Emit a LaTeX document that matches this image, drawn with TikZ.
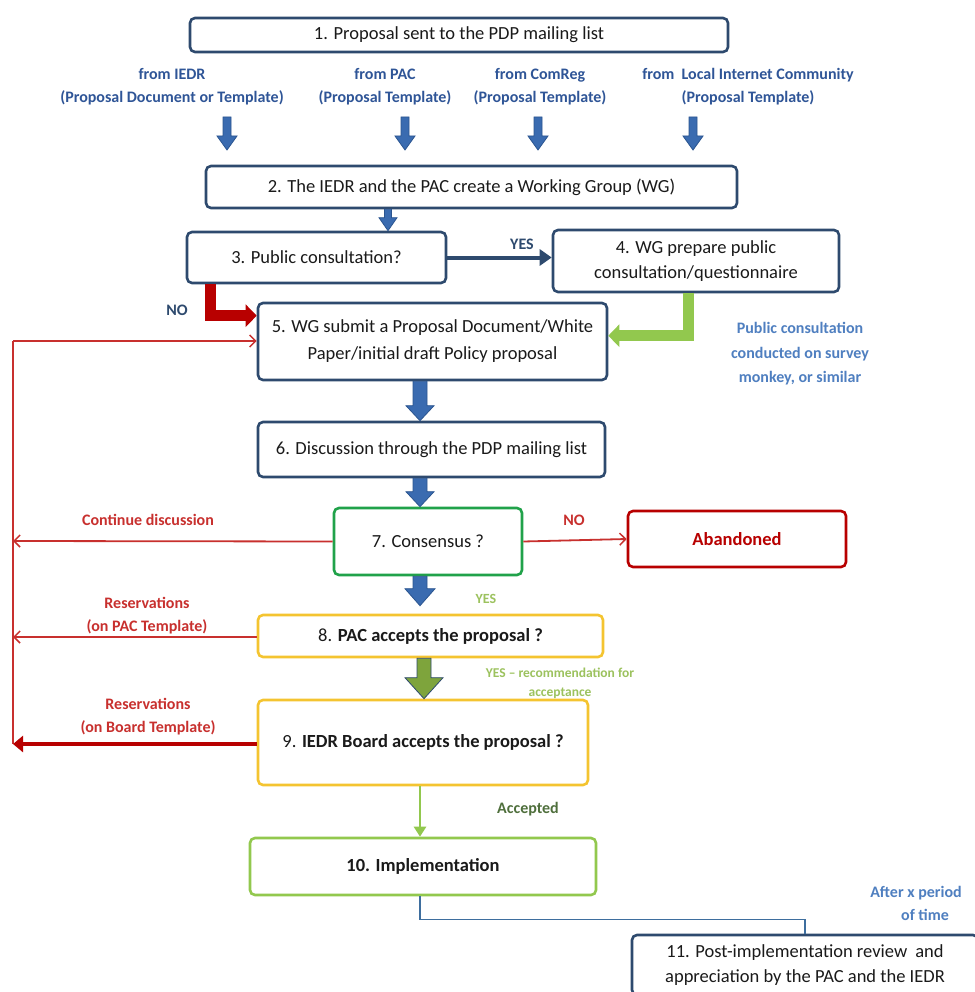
\documentclass[tikz,border=0pt]{standalone}
\usepackage{fontspec}
\setmainfont{Carlito}
\usetikzlibrary{arrows.meta,calc}
\definecolor{navy}{HTML}{2E4A6E}
\definecolor{barrow}{HTML}{3A6BB0}
\definecolor{barrowd}{HTML}{2B5590}
\definecolor{btext}{HTML}{2F5597}
\definecolor{ltblue}{HTML}{4F7FC0}
\definecolor{dred}{HTML}{B80000}
\definecolor{lred}{HTML}{C8302E}
\definecolor{cgreen}{HTML}{21A24A}
\definecolor{yel}{HTML}{F4C430}
\definecolor{lgreen}{HTML}{92C84E}
\definecolor{ygtext}{HTML}{9CC25E}
\definecolor{agreen}{HTML}{4F6F3C}
\definecolor{bfill}{HTML}{7EA43C}
\definecolor{conn}{HTML}{3E6E9E}
\definecolor{btxt}{HTML}{1A1A1A}
\newcommand\dnarrow[7]{%
  \draw[fill=#6,draw=#7,line width=0.8pt] let \p1=(#1), \p2=(#2) in
    (\x1-#3,\y1) -- (\x1-#3,\y2+#5) -- (\x1-#4,\y2+#5) -- (\x1,\y2)
    -- (\x1+#4,\y2+#5) -- (\x1+#3,\y2+#5) -- (\x1+#3,\y1) -- cycle;}
\begin{document}
\begin{tikzpicture}[x=1pt,y=-1pt,
  font=\fontsize{18.5}{22}\selectfont,
  box/.style={draw=navy, line width=2.6pt, rounded corners=5pt, fill=white,
    inner sep=0pt, align=center, text=btxt},
  lab/.style={font=\fontsize{16}{23}\selectfont\bfseries, text=btext, align=center, inner sep=0pt},
  rlab/.style={font=\fontsize{16}{23}\selectfont\bfseries, text=lred, align=center, inner sep=0pt},
  fb/.style={lred, line width=1.8pt},
  barb/.style={-{Straight Barb[length=6pt,width=12pt,line width=1.5pt]}}
]
\useasboundingbox (0,0) rectangle (974,992);
\fill[white] (0,0) rectangle (974,992);

% boxes
\node[box, minimum width=538, minimum height=34] (b1) at (459,35) {1. Proposal sent to the PDP mailing list};
\node[box, minimum width=531, minimum height=42] (b2) at (471.5,187) {2. The IEDR and the PAC create a Working Group (WG)};
\node[box, minimum width=259, minimum height=51] (b3) at (316.5,257.5) {3. Public consultation?};
\node[box, minimum width=286, minimum height=62, font=\fontsize{18.5}{25}\selectfont] (b4) at (696,261) {4. WG prepare public\\consultation/questionnaire};
\node[box, minimum width=349, minimum height=77, font=\fontsize{18.5}{27}\selectfont] (b5) at (432.5,341.5) {5. WG submit a Proposal Document/White\\Paper/initial draft Policy proposal};
\node[box, minimum width=347, minimum height=55] (b6) at (431.5,449.5) {6. Discussion through the PDP mailing list};
\node[box, draw=cgreen, minimum width=188, minimum height=67] (b7) at (428,541.5) {7. Consensus ?};
\node[box, draw=dred, minimum width=218, minimum height=56, text=dred, font=\fontsize{18.5}{22}\selectfont\bfseries] (ab) at (737,539) {Abandoned};
\node[box, draw=yel, minimum width=345, minimum height=42] (b8) at (430.5,636) {8. \textbf{PAC accepts the proposal ?}};
\node[box, draw=yel, minimum width=330, minimum height=85] (b9) at (423,742.5) {9. \textbf{IEDR Board accepts the proposal ?}};
\node[box, draw=lgreen, minimum width=346, minimum height=57] (b10) at (423,866.5) {\textbf{10. Implementation}};
\node[box, minimum width=346, minimum height=60, font=\fontsize{18.5}{25}\selectfont] (b11) at (805,965) {11. Post-implementation review\hspace{8pt}and\\appreciation by the PAC and the IEDR};

% source labels
\node[lab] (s1) at (172,87) {from IEDR\\(Proposal Document or Template)};
\node[lab] (s2) at (385,87) {from PAC\\(Proposal Template)};
\node[lab] (s3) at (540,87) {from ComReg\\(Proposal Template)};
\node[lab] (s4) at (748,87) {from \ Local Internet Community\\(Proposal Template)};
\foreach \xx/\k in {227/1,405/2,538/3,693/4}{
  \coordinate (t\k) at (\xx,117);
  \coordinate (e\k) at (\xx,150);
}
\dnarrow{t1}{e1}{4pt}{10pt}{14pt}{barrow}{barrowd}
\dnarrow{t2}{e2}{4pt}{10pt}{14pt}{barrow}{barrowd}
\dnarrow{t3}{e3}{4pt}{10pt}{14pt}{barrow}{barrowd}
\dnarrow{t4}{e4}{4pt}{10pt}{14pt}{barrow}{barrowd}

% 2 -> 3
\coordinate (a23) at (b2.south -| 388,0);
\coordinate (a23e) at (b3.north -| 388,0);
\dnarrow{a23}{a23e}{3.5pt}{9pt}{13pt}{barrow}{barrowd}

% YES 3 -> 4
\draw[navy, line width=4pt, -{Triangle[length=12pt,width=16pt]}] (b3.east) -- (b4.west |- b3.east);
\node[lab, text=navy] (yes34) at (522,244) {YES};

% NO 3 -> 5
\draw[dred, line width=11pt, -{Triangle[length=11pt,width=22pt]}] ($(b3.south west)+(25,0)$) |- ($(b5.north west)+(0,14)$);
\node[lab, text=navy] (no35) at (177,310) {NO};

% 4 -> 5 green
\draw[lgreen, line width=11pt, -{Triangle[length=11pt,width=22pt]}] ($(b4.south west)+(137,0)$) |- ($(b5.north east)+(0,34)$);
\node[lab, text=ltblue, font=\fontsize{16}{24.5}\selectfont\bfseries] (pc) at (800,354) {Public consultation\\conducted on survey\\monkey, or similar};

% 5 -> 6, 6 -> 7, 7 -> 8
\coordinate (a56) at (b5.south -| 420,0);
\coordinate (a56e) at (b6.north -| 420,0);
\dnarrow{a56}{a56e}{7pt}{14pt}{15pt}{barrow}{barrowd}
\coordinate (a67) at (b6.south -| 420,0);
\coordinate (a67e) at (b7.north -| 420,0);
\dnarrow{a67}{a67e}{7pt}{14pt}{15pt}{barrow}{barrowd}
\coordinate (a78) at (b7.south -| 420,0);
\coordinate (a78e) at ($(b8.north -| 420,0)+(0,-8)$);
\dnarrow{a78}{a78e}{7pt}{15pt}{17pt}{barrow}{barrowd}
\node[lab, text=ygtext, font=\fontsize{14}{16}\selectfont\bfseries] (yes78) at (486,599) {YES};

% 7 -> abandoned
\draw[fb, barb] (b7.east) -- (ab.west);
\node[rlab] (no7) at (574,520) {NO};

% feedback loop
\coordinate (L5) at (13,341);
\coordinate (L7) at (13,541);
\coordinate (L8) at (13,637);
\coordinate (L9) at (13,744);
\draw[fb] (L5) -- (L9);
\draw[fb, barb] (L5) -- (b5.west |- L5);
\draw[fb, barb] (b7.west) -- (L7);
\node[rlab] (cd) at (148,520) {Continue discussion};
\draw[fb, barb] (b8.west |- L8) -- (L8);
\node[rlab] (r8) at (147,616) {Reservations\\(on PAC Template)};
\draw[dred, line width=4pt, -{Triangle[length=10pt,width=16pt]}] (b9.west |- L9) -- (L9);
\node[rlab] (r9) at (148,717) {Reservations\\(on Board Template)};

% 8 -> 9 green block
\coordinate (a89) at (b8.south -| 424,0);
\coordinate (a89e) at (b9.north -| 424,0);
\dnarrow{a89}{a89e}{7pt}{19pt}{21pt}{bfill}{navy}
\node[lab, text=ygtext, font=\fontsize{13.5}{19}\selectfont\bfseries] (yr) at (560,683) {YES -- recommendation for\\acceptance};

% 9 -> 10
\draw[lgreen, line width=2.5pt, -{Triangle[length=10pt,width=12pt]}] (b9.south -| 420,0) -- (b10.north -| 420,0);
\node[lab, text=agreen] (acc) at (528,809) {Accepted};

% 10 -> 11
\draw[conn, line width=1.2pt] (b10.south -| 420,0) -- ++(0,23) -| (b11.north);
\node[lab, text=ltblue] (ax) at (916,903) {After x period\\\hspace*{18pt}of time};
\end{tikzpicture}
\end{document}
